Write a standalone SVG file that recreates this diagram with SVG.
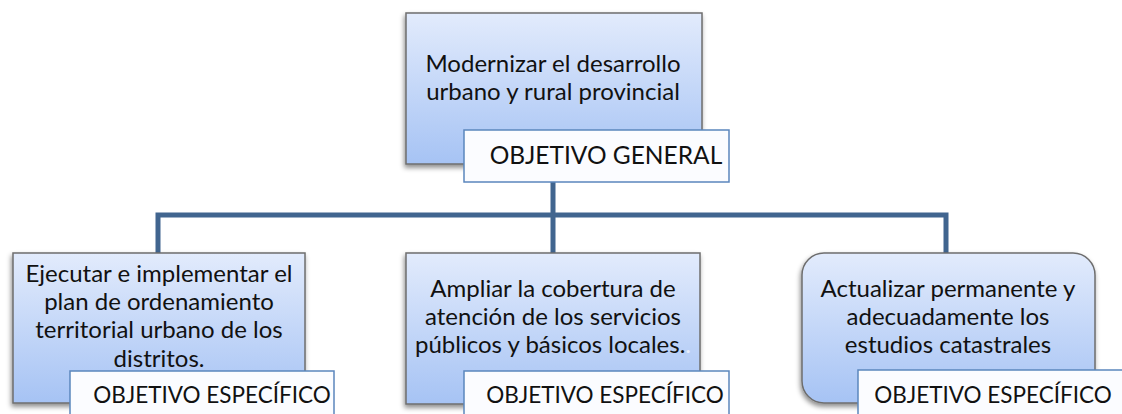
<svg xmlns="http://www.w3.org/2000/svg" width="1122" height="414" viewBox="0 0 1122 414">
<defs>
<linearGradient id="g" x1="0" y1="0" x2="0" y2="1">
<stop offset="0" stop-color="#e2ebfc"/>
<stop offset="1" stop-color="#a6c3f4"/>
</linearGradient>
<filter id="sh" x="-10%" y="-10%" width="125%" height="130%">
<feDropShadow dx="-1" dy="3" stdDeviation="2.5" flood-color="#000" flood-opacity="0.45"/>
</filter>
</defs>
<style>
.box{fill:url(#g);stroke:#6e6e6e;stroke-width:1.5;filter:url(#sh)}
.lab{fill:#fbfcff;stroke:#5b86bd;stroke-width:1.5}
.t{font-family:Lato,"Liberation Sans",sans-serif;font-size:24px;fill:#111;text-anchor:middle}
.lg{font-size:24.5px}
.le{font-size:22.5px}
.c{fill:none;stroke:#41658f;stroke-width:5}
</style>
<g id="connectors">
<path class="c" d="M553,182 V215 M158,255 V215 H946 V255 M553,215 V253"/>
</g>
<g id="n-general">
<rect class="box" x="406" y="13" width="296" height="151"/>
<text class="t" x="553" y="72">Modernizar el desarrollo</text>
<text class="t" x="553" y="100">urbano y rural provincial</text>
<rect class="lab" x="464" y="130" width="265" height="52"/>
<text class="t lg" x="606" y="164">OBJETIVO GENERAL</text>
</g>
<g id="n-esp1">
<rect class="box" x="13" y="253" width="292" height="150"/>
<text class="t" x="159" y="282">Ejecutar e implementar el</text>
<text class="t" x="159" y="310">plan de ordenamiento</text>
<text class="t" x="159" y="338">territorial urbano de los</text>
<text class="t" x="159" y="367">distritos.</text>
<rect class="lab" x="70" y="371" width="264" height="52"/>
<text class="t le" x="212" y="403">OBJETIVO ESPECÍFICO</text>
</g>
<g id="n-esp2">
<rect class="box" x="406" y="253" width="294" height="151"/>
<text class="t" x="553" y="297">Ampliar la cobertura de</text>
<text class="t" x="553" y="325">atención de los servicios</text>
<text class="t" x="553" y="353">públicos y básicos locales.<tspan fill="#e8eefa">.</tspan></text>
<rect class="lab" x="464" y="371" width="265" height="52"/>
<text class="t le" x="605" y="403">OBJETIVO ESPECÍFICO</text>
</g>
<g id="n-esp3">
<rect class="box" x="802" y="253" width="293" height="150" rx="22"/>
<text class="t" x="948" y="297">Actualizar permanente y</text>
<text class="t" x="948" y="325">adecuadamente los</text>
<text class="t" x="948" y="353">estudios catastrales</text>
<rect class="lab" x="858" y="370" width="280" height="52"/>
<text class="t le" x="993" y="403">OBJETIVO ESPECÍFICO</text>
</g>
</svg>
